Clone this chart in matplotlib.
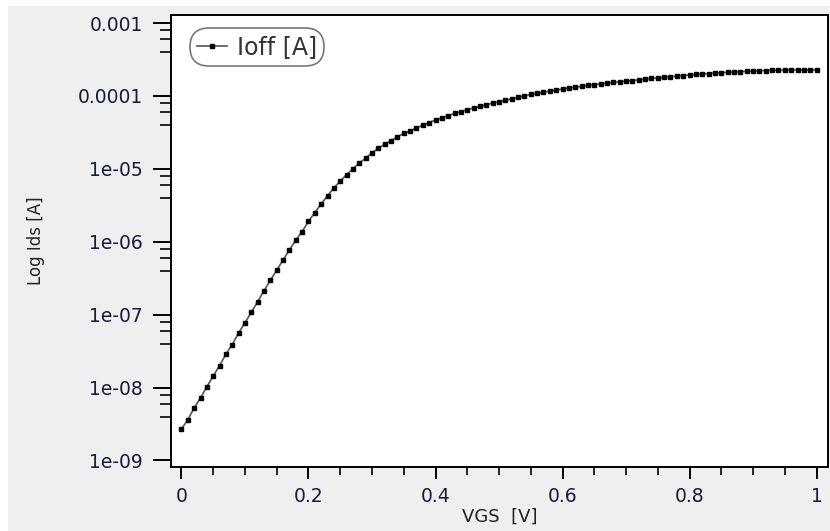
import numpy as np
import matplotlib
matplotlib.use("Agg")
import matplotlib.pyplot as plt
from matplotlib.patches import Rectangle
from matplotlib.ticker import LogLocator, MultipleLocator, NullFormatter, FixedLocator, FixedFormatter

# Data (VGS in volts, log10 of Ioff in amps)
vgs = [i / 100 for i in range(101)]
log_ioff = [
    -8.57, -8.44, -8.28, -8.14, -7.99, -7.84, -7.70, -7.54, -7.41, -7.25,
    -7.11, -6.97, -6.82, -6.67, -6.53, -6.39, -6.25, -6.11, -5.98, -5.86,
    -5.72, -5.60, -5.48, -5.37, -5.26, -5.17, -5.08, -5.00, -4.92, -4.855,
    -4.78, -4.72, -4.66, -4.615, -4.56, -4.515, -4.48, -4.44, -4.40, -4.365,
    -4.33, -4.30, -4.27, -4.24, -4.215, -4.19, -4.165, -4.145, -4.12, -4.10,
    -4.08, -4.06, -4.04, -4.02, -4.00, -3.98, -3.965, -3.95, -3.935, -3.92,
    -3.905, -3.89, -3.88, -3.87, -3.855, -3.845, -3.835, -3.825, -3.815, -3.805,
    -3.797, -3.79, -3.78, -3.77, -3.76, -3.752, -3.745, -3.735, -3.728, -3.72,
    -3.712, -3.705, -3.70, -3.693, -3.687, -3.682, -3.677, -3.672, -3.667, -3.662,
    -3.658, -3.655, -3.652, -3.65, -3.648, -3.646, -3.645, -3.645, -3.644, -3.644,
    -3.643,
]
ioff = 10 ** np.array(log_ioff)

y_ticks = [1e-9, 1e-8, 1e-7, 1e-6, 1e-5, 1e-4, 1e-3]
y_labels = ["1e-09", "1e-08", "1e-07", "1e-06", "1e-05", "0.0001", "0.001"]
x_ticks = [0, 0.2, 0.4, 0.6, 0.8, 1]
x_labels = ["0", "0.2", "0.4", "0.6", "0.8", "1"]

W, H = 830, 531
fig = plt.figure(figsize=(W / 100, H / 100), dpi=100, facecolor="white")
fig.patches.append(Rectangle((8 / W, 0), 1 - 8 / W, 1 - 6 / H, transform=fig.transFigure,
                             facecolor="#efefef", edgecolor="none", zorder=-10))

ax = fig.add_axes([171 / W, 1 - 467 / H, 657 / W, 452 / H])
ax.set_facecolor("white")

ax.plot(vgs, ioff, color="#555555", lw=1.2, marker="s", ms=3.0,
        mfc="black", mec="black", label="Ioff [A]")

ax.set_yscale("log")
ax.set_xlim(-0.0165, 1.018)
ax.set_ylim(10 ** -9.09, 10 ** -2.89)

ax.yaxis.set_major_locator(FixedLocator(y_ticks))
ax.yaxis.set_major_formatter(FixedFormatter(y_labels))
ax.yaxis.set_minor_locator(LogLocator(base=10, subs=(4, 6, 8)))
ax.yaxis.set_minor_formatter(NullFormatter())
ax.xaxis.set_major_locator(FixedLocator(x_ticks))
ax.xaxis.set_major_formatter(FixedFormatter(x_labels))
ax.xaxis.set_minor_locator(MultipleLocator(0.05))

tick_col = "#1a1a3a"
ax.tick_params(axis="y", which="major", direction="out", length=13, width=1.4,
               pad=7, labelsize=13.5, labelcolor=tick_col)
ax.tick_params(axis="y", which="minor", direction="out", length=8, width=1.2)
ax.tick_params(axis="x", which="major", direction="out", length=8.5, width=1.4,
               pad=6, labelsize=13.5, labelcolor=tick_col)
ax.tick_params(axis="x", which="minor", direction="out", length=6, width=1.2)

for s in ax.spines.values():
    s.set_linewidth(1.4)
    s.set_color("black")

ax.set_xlabel("VGS  [V]", fontsize=13, color="#222222", labelpad=1)
ax.set_ylabel("Log Ids [A]", fontsize=12, color="#222222", labelpad=24)

leg = ax.legend(loc="upper left", bbox_to_anchor=(197 / W, 1 - 35 / H),
                bbox_transform=fig.transFigure, borderaxespad=0, fontsize=17,
                handlelength=1.25, handletextpad=0.45, borderpad=0.0,
                fancybox=True, framealpha=1, edgecolor="#777777")
leg.get_frame().set_linewidth(1.2)
leg.get_frame().set_boxstyle("round", pad=0.3, rounding_size=0.8)
for t in leg.get_texts():
    t.set_color("#333333")

fig.savefig("out.png", dpi=100, facecolor=fig.get_facecolor())
